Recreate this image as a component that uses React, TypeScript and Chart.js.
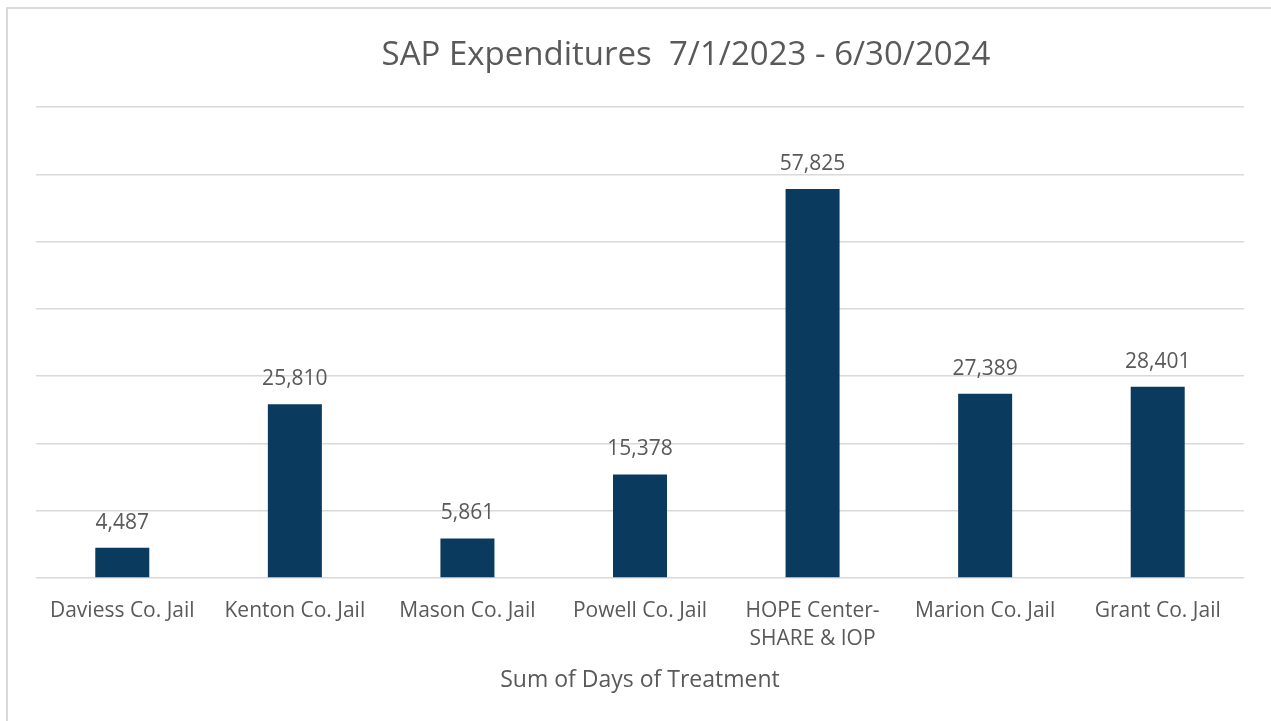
import React, { useEffect, useRef } from "react";
import { Chart, registerables } from "chart.js";

Chart.register(...registerables);

const TITLE = "SAP Expenditures  7/1/2023 - 6/30/2024";
const X_TITLE = "Sum of Days of Treatment";
const categories: (string | string[])[] = [
  "Daviess Co. Jail",
  "Kenton Co. Jail",
  "Mason Co. Jail",
  "Powell Co. Jail",
  ["HOPE Center-", "SHARE & IOP"],
  "Marion Co. Jail",
  "Grant Co. Jail",
];
const values: number[] = [4487, 25810, 5861, 15378, 57825, 27389, 28401];
const Y_MAX = 70000;
const Y_STEP = 10000;

const FONT = "'Open Sans', 'DejaVu Sans', sans-serif";
const TEXT = "#595959";
const BAR = "#0B3A5F";
const GRID = "#D9D9D9";

export default function App() {
  const ref = useRef<HTMLCanvasElement | null>(null);
  useEffect(() => {
    if (!ref.current) return;
    const framePlugin = {
      id: "frame",
      beforeDraw(chart: any) {
        const ctx = chart.ctx;
        ctx.save();
        ctx.fillStyle = "#ffffff";
        ctx.fillRect(0, 0, chart.width, chart.height);
        ctx.strokeStyle = GRID;
        ctx.lineWidth = 2;
        ctx.beginPath();
        ctx.moveTo(7, chart.height + 5);
        ctx.lineTo(7, 8);
        ctx.lineTo(chart.width + 5, 8);
        ctx.stroke();
        ctx.restore();
      },
    };
    const titlePlugin = {
      id: "ctitle",
      afterDraw(chart: any) {
        const ctx = chart.ctx;
        ctx.save();
        ctx.fillStyle = TEXT;
        ctx.font = `33px ${FONT}`;
        ctx.textAlign = "center";
        ctx.textBaseline = "middle";
        ctx.fillText(TITLE, 686, 56);
        ctx.restore();
      },
    };
    const labelPlugin = {
      id: "vlabels",
      afterDatasetsDraw(chart: any) {
        const ctx = chart.ctx;
        const meta = chart.getDatasetMeta(0);
        ctx.save();
        ctx.fillStyle = TEXT;
        ctx.font = `21px ${FONT}`;
        ctx.textAlign = "center";
        ctx.textBaseline = "middle";
        meta.data.forEach((el: any, i: number) => {
          ctx.fillText(values[i].toLocaleString("en-US"), el.x, el.y - 25);
        });
        ctx.restore();
      },
    };
    const chart = new Chart(ref.current, {
      type: "bar",
      data: {
        labels: categories,
        datasets: [
          {
            data: values,
            backgroundColor: BAR,
            barPercentage: 0.626,
            categoryPercentage: 0.5,
          },
        ],
      },
      options: {
        animation: false,
        responsive: false,
        layout: { padding: { left: 36, right: 27, top: 107, bottom: 32 } },
        plugins: { legend: { display: false }, tooltip: { enabled: false }, title: { display: false } },
        scales: {
          x: {
            grid: { display: false, drawTicks: false },
            border: { display: false },
            ticks: {
              color: TEXT,
              font: { family: FONT, size: 21, lineHeight: 1.333 },
              padding: 19,
              maxRotation: 0,
              autoSkip: false,
            },
            title: {
              display: true,
              text: X_TITLE,
              color: TEXT,
              font: { family: FONT, size: 23, lineHeight: 0.745 },
              padding: { top: 0, bottom: 0 },
            },
          },
          y: {
            min: 0,
            max: Y_MAX,
            ticks: { display: false, stepSize: Y_STEP },
            grid: { color: GRID, lineWidth: 1.5, drawTicks: false },
            border: { display: false },
          },
        },
      },
      plugins: [framePlugin, titlePlugin, labelPlugin],
    });
    return () => chart.destroy();
  }, []);
  return (
    <div style={{ position: "fixed", left: 0, top: 0, width: 1271, height: 721 }}>
      <canvas ref={ref} width={1271} height={721} style={{ display: "block" }} />
    </div>
  );
}
